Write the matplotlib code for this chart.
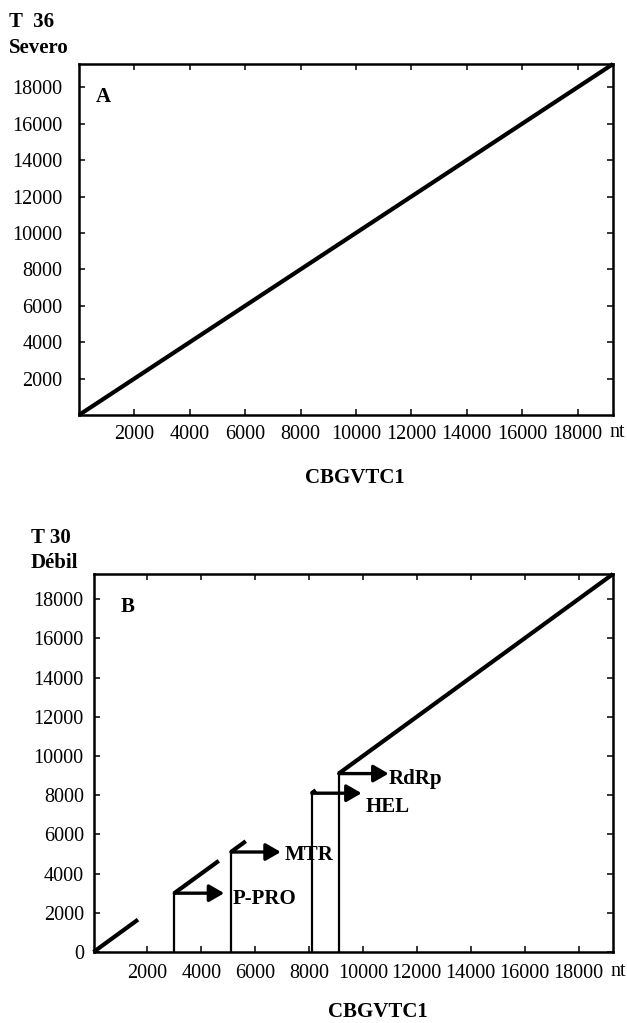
import matplotlib
matplotlib.use("Agg")
import matplotlib.pyplot as plt

plt.rcParams['font.family'] = ['Liberation Serif', 'DejaVu Serif']

# ---------------- data ----------------
ticks_a_x = [2000, 4000, 6000, 8000, 10000, 12000, 14000, 16000, 18000]
ticks_a_y = [2000, 4000, 6000, 8000, 10000, 12000, 14000, 16000, 18000]
ticks_b_x = [2000, 4000, 6000, 8000, 10000, 12000, 14000, 16000, 18000]
ticks_b_y = [0, 2000, 4000, 6000, 8000, 10000, 12000, 14000, 16000, 18000]
axis_max = 19280

# Panel A: colinear alignment (T36 vs CBGVTC1)
a_x = [0, 19280]
a_y = [0, 19280]

# Panel B: aligned segments (T30 vs CBGVTC1)
seg_x0 = [0, 3000, 5100, 8100, 9100]
seg_x1 = [1650, 4650, 5650, 8250, 19280]

# recombination / break points (vertical lines) and gene arrows
break_x = [3000, 5100, 8100, 9100]
gene_names = ['P-PRO', 'MTR', 'HEL', 'RdRp']
arrow_len = [1850, 1850, 1850, 1850]
label_x = [5150, 7100, 10090, 10940]
label_y = [2720, 4970, 7390, 8820]

# ---------------- figure ----------------
W, H = 627, 1023
fig = plt.figure(figsize=(W / 100, H / 100), dpi=100)

def px_axes(l, r, t, b):
    return fig.add_axes([l / W, 1 - b / H, (r - l) / W, (b - t) / H])

def style(ax, xt, yt, xpad, ypad):
    ax.set_xlim(0, axis_max)
    ax.set_ylim(0, axis_max)
    ax.set_xticks(xt)
    ax.set_yticks(yt)
    ax.set_xticklabels([str(v) for v in xt])
    ax.set_yticklabels([str(v) for v in yt])
    for s in ax.spines.values():
        s.set_linewidth(1.8)
    ax.tick_params(direction='in', length=4.5, width=1.1, top=True, right=True,
                   labelsize=14.5)
    ax.tick_params(axis='x', pad=xpad)
    ax.tick_params(axis='y', pad=ypad)

# Panel A
axA = px_axes(79, 613, 64, 415)
style(axA, ticks_a_x, ticks_a_y, 7, 12)
axA.plot(a_x, a_y, color='black', lw=3.0, solid_capstyle='butt', clip_on=False)
axA.text(0.045, 0.906, 'A', transform=axA.transAxes, fontsize=15,
         fontweight='bold', ha='center', va='center')

# Panel B
axB = px_axes(93.5, 613, 574, 952)
style(axB, ticks_b_x, ticks_b_y, 9, 7)
for x0, x1 in zip(seg_x0, seg_x1):
    axB.plot([x0, x1], [x0, x1], color='black', lw=3.0, solid_capstyle='butt',
             clip_on=False)
for bx in break_x:
    axB.plot([bx, bx], [0, bx], color='black', lw=1.6)
for bx, L, name, lx, ly in zip(break_x, arrow_len, gene_names, label_x, label_y):
    axB.annotate('', xy=(bx + L, bx), xytext=(bx, bx),
                 arrowprops=dict(arrowstyle='-|>,head_length=0.45,head_width=0.26',
                                 lw=2.4, color='black', shrinkA=0, shrinkB=0,
                                 mutation_scale=20))
    axB.text(lx, ly, name, fontsize=15, fontweight='bold', ha='left', va='center')
axB.text(0.065, 0.913, 'B', transform=axB.transAxes, fontsize=15,
         fontweight='bold', ha='center', va='center')

# Figure-level texts
fig.text(9 / W, 1 - 22 / H, 'T  36', fontsize=15, fontweight='bold', ha='left', va='center')
fig.text(9 / W, 1 - 48 / H, 'Severo', fontsize=15, fontweight='bold', ha='left', va='center')
fig.text(31 / W, 1 - 538 / H, 'T 30', fontsize=15, fontweight='bold', ha='left', va='center')
fig.text(31 / W, 1 - 563 / H, 'Débil', fontsize=15, fontweight='bold', ha='left', va='center')

fig.text(609 / W, 1 - 432 / H, 'nt', fontsize=14.5, ha='left', va='center')
fig.text(610 / W, 1 - 972 / H, 'nt', fontsize=14.5, ha='left', va='center')

fig.text(355 / W, 1 - 478 / H, 'CBGVTC1', fontsize=15, fontweight='bold', ha='center', va='center')
fig.text(378 / W, 1 - 1012 / H, 'CBGVTC1', fontsize=15, fontweight='bold', ha='center', va='center')

fig.savefig('out.png', dpi=100)
